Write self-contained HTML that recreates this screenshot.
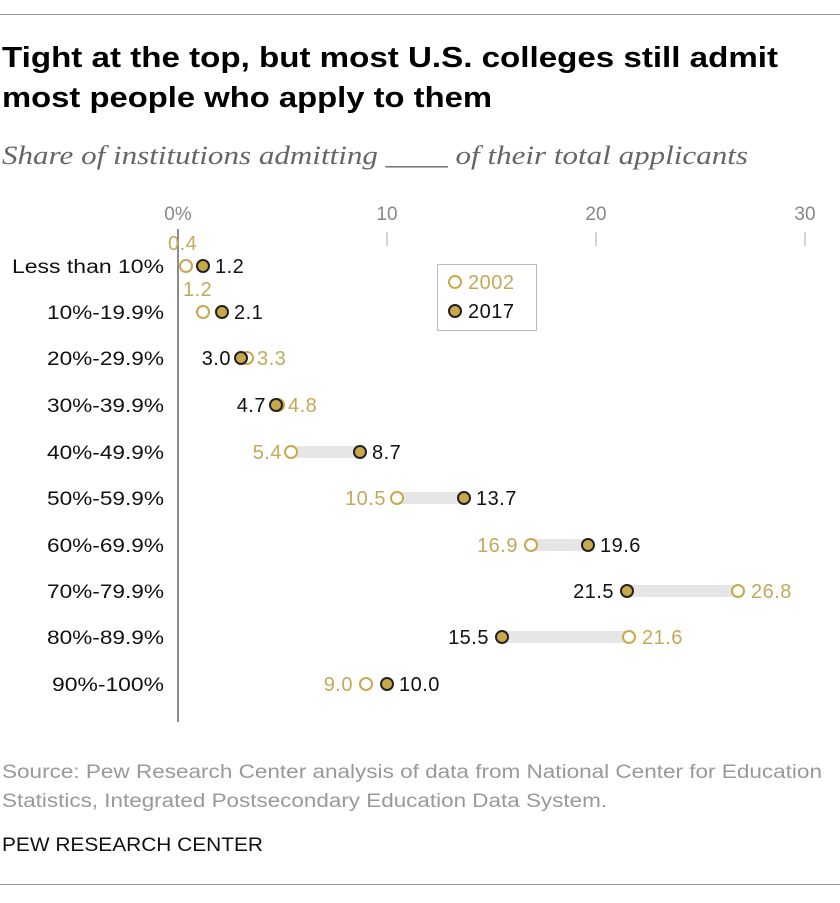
<!DOCTYPE html>
<html><head><meta charset="utf-8"><style>
body{margin:0;background:#fff;width:840px;height:898px;overflow:hidden;font-family:"Liberation Sans",sans-serif}
</style></head><body>
<svg width="840" height="898" xmlns="http://www.w3.org/2000/svg" font-family="Liberation Sans, sans-serif">
<line x1="0" y1="14.5" x2="840" y2="14.5" stroke="#999" stroke-width="1"/>
<text x="2" y="67" font-size="29" font-weight="bold" fill="#000" textLength="776" lengthAdjust="spacingAndGlyphs">Tight at the top, but most U.S. colleges still admit</text>
<text x="2" y="107" font-size="29" font-weight="bold" fill="#000" textLength="490" lengthAdjust="spacingAndGlyphs">most people who apply to them</text>
<text x="2" y="164" font-size="26" font-style="italic" font-family="Liberation Serif, serif" fill="#666" textLength="746" lengthAdjust="spacingAndGlyphs">Share of institutions admitting ____ of their total applicants</text>
<g font-size="19" fill="#888" text-anchor="middle">
<text x="178" y="220">0%</text><text x="387" y="220">10</text><text x="596" y="220">20</text><text x="805" y="220">30</text>
</g>
<g stroke="#aaa" stroke-width="1"><line x1="387" y1="232" x2="387" y2="246"/><line x1="596" y1="232" x2="596" y2="246"/><line x1="805" y1="232" x2="805" y2="246"/></g>
<line x1="178" y1="229" x2="178" y2="722" stroke="#666" stroke-width="1.5"/>
<g font-size="19" fill="#111">
<text x="12" y="273" textLength="152" lengthAdjust="spacingAndGlyphs">Less than 10%</text>
<text x="47" y="319" textLength="117" lengthAdjust="spacingAndGlyphs">10%-19.9%</text>
<text x="47" y="365" textLength="117" lengthAdjust="spacingAndGlyphs">20%-29.9%</text>
<text x="47" y="412" textLength="117" lengthAdjust="spacingAndGlyphs">30%-39.9%</text>
<text x="47" y="459" textLength="117" lengthAdjust="spacingAndGlyphs">40%-49.9%</text>
<text x="47" y="505" textLength="117" lengthAdjust="spacingAndGlyphs">50%-59.9%</text>
<text x="47" y="552" textLength="117" lengthAdjust="spacingAndGlyphs">60%-69.9%</text>
<text x="47" y="598" textLength="117" lengthAdjust="spacingAndGlyphs">70%-79.9%</text>
<text x="47" y="644" textLength="117" lengthAdjust="spacingAndGlyphs">80%-89.9%</text>
<text x="52" y="691" textLength="112" lengthAdjust="spacingAndGlyphs">90%-100%</text>
</g>
<g fill="#e6e6e6">
<rect x="291" y="446" width="70" height="12"/><rect x="397" y="492" width="67" height="12"/><rect x="531" y="539" width="57" height="12"/><rect x="627" y="585" width="111" height="12"/><rect x="502" y="631" width="129" height="12"/>
</g>
<g fill="#fff" stroke="#c9a84c" stroke-width="2">
<circle cx="186" cy="266" r="6"/><circle cx="203" cy="312" r="6"/><circle cx="247" cy="358" r="6"/><circle cx="278" cy="405" r="6"/><circle cx="291" cy="452" r="6"/><circle cx="397" cy="498" r="6"/><circle cx="531" cy="545" r="6"/><circle cx="738" cy="591" r="6"/><circle cx="629" cy="637" r="6"/><circle cx="366" cy="684" r="6"/>
</g>
<g fill="#c9a84c" stroke="#222" stroke-width="2">
<circle cx="203" cy="266" r="6"/><circle cx="222" cy="312" r="6"/><circle cx="241" cy="358" r="6"/><circle cx="276" cy="405" r="6"/><circle cx="360" cy="452" r="6"/><circle cx="464" cy="498" r="6"/><circle cx="588" cy="545" r="6"/><circle cx="627" cy="591" r="6"/><circle cx="502" cy="637" r="6"/><circle cx="387" cy="684" r="6"/>
</g>
<g font-size="20" fill="#c4a85a" letter-spacing="0.5">
<text x="168" y="250">0.4</text><text x="183" y="296">1.2</text><text x="257" y="365">3.3</text><text x="288" y="412">4.8</text>
<text x="282" y="459" text-anchor="end">5.4</text><text x="386" y="505" text-anchor="end">10.5</text><text x="518" y="552" text-anchor="end">16.9</text><text x="751" y="598">26.8</text><text x="642" y="644">21.6</text><text x="353" y="691" text-anchor="end">9.0</text>
</g>
<g font-size="20" fill="#111" letter-spacing="0.5">
<text x="215" y="273">1.2</text><text x="234" y="319">2.1</text><text x="231" y="365" text-anchor="end">3.0</text><text x="266" y="412" text-anchor="end">4.7</text><text x="372" y="459">8.7</text><text x="476" y="505">13.7</text><text x="600" y="552">19.6</text><text x="614" y="598" text-anchor="end">21.5</text><text x="489" y="644" text-anchor="end">15.5</text><text x="399" y="691">10.0</text>
</g>
<rect x="437.5" y="264.5" width="99" height="66" fill="#fff" stroke="#bbb"/>
<circle cx="455" cy="282" r="6" fill="#fff" stroke="#c9a84c" stroke-width="2"/>
<text x="468" y="289" font-size="20" fill="#c4a85a" letter-spacing="0.5">2002</text>
<circle cx="455" cy="311" r="6" fill="#c9a84c" stroke="#222" stroke-width="2"/>
<text x="468" y="318" font-size="20" fill="#111" letter-spacing="0.5">2017</text>
<text x="2" y="778" font-size="19" fill="#999" textLength="820" lengthAdjust="spacingAndGlyphs">Source: Pew Research Center analysis of data from National Center for Education</text>
<text x="2" y="807" font-size="19" fill="#999" textLength="605" lengthAdjust="spacingAndGlyphs">Statistics, Integrated Postsecondary Education Data System.</text>
<text x="2" y="851" font-size="19" fill="#111" textLength="261" lengthAdjust="spacingAndGlyphs">PEW RESEARCH CENTER</text>
<line x1="0" y1="884.5" x2="840" y2="884.5" stroke="#999" stroke-width="1"/>
</svg>
</body></html>
